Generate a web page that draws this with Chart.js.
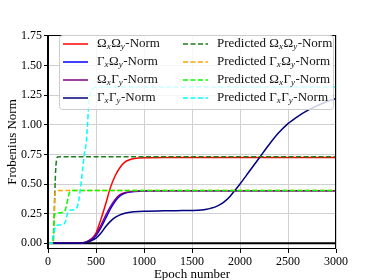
<!DOCTYPE html>
<html><head><meta charset="utf-8">
<script src="https://cdn.jsdelivr.net/npm/chart.js@4.4.1/dist/chart.umd.min.js"></script>
<style>html,body{margin:0;padding:0;background:#fff;}</style>
</head><body>
<canvas id="c" width="374" height="280"></canvas>
<script>
// ---- data ----
const seriesLabels = ['Ω_xΩ_y-Norm','Γ_xΩ_y-Norm','Ω_xΓ_y-Norm','Γ_xΓ_y-Norm',
  'Predicted Ω_xΩ_y-Norm','Predicted Γ_xΩ_y-Norm','Predicted Ω_xΓ_y-Norm','Predicted Γ_xΓ_y-Norm'];
const xTicks = [0,500,1000,1500,2000,2500,3000];
const yTicks = [0,0.25,0.5,0.75,1.0,1.25,1.5,1.75];
const xTitle = 'Epoch number';
const yTitle = 'Frobenius Norm';

const redEpochs   = [0,300,350,400,450,500,550,600,650,700,750,800,850,900,1000,1200,3000];
const redValues   = [0,0.001,0.004,0.012,0.035,0.087,0.2,0.33,0.47,0.57,0.64,0.685,0.705,0.716,0.723,0.725,0.725];
const blueEpochs  = [0,300,350,400,450,500,550,600,650,700,750,800,850,900,1000,1200,3000];
const blueValues  = [0,0.001,0.003,0.01,0.03,0.065,0.13,0.21,0.29,0.355,0.40,0.422,0.433,0.438,0.442,0.443,0.443];
const purpleEpochs= [0,300,350,400,450,500,550,600,650,700,750,800,850,900,1000,1200,3000];
const purpleValues= [0,0.001,0.004,0.012,0.035,0.075,0.15,0.235,0.31,0.37,0.41,0.428,0.436,0.44,0.443,0.444,0.444];
const navyEpochs  = [0,300,400,450,500,550,600,650,700,750,800,900,1000,1200,1400,1500,1600,1650,1700,1750,1800,1850,1900,1950,2000,2100,2200,2300,2400,2500,2600,2700,2800,2900,3000];
const navyValues  = [0,0.001,0.008,0.022,0.044,0.085,0.14,0.185,0.218,0.24,0.254,0.266,0.271,0.274,0.276,0.277,0.281,0.287,0.297,0.31,0.33,0.36,0.4,0.45,0.5,0.61,0.72,0.83,0.93,1.01,1.07,1.12,1.16,1.195,1.222];

const predGreenEpochs = [0,50,60,70,80,90,100,120,3000];
const predGreenValues = [0,0,0.1,0.4,0.62,0.71,0.728,0.73,0.73];
const predOrangeEpochs= [0,55,62,70,78,90,3000];
const predOrangeValues= [0,0,0.15,0.38,0.44,0.445,0.445];
const predLimeEpochs  = [0,50,58,65,75,100,150,175,190,205,220,235,250,3000];
const predLimeValues  = [0,0,0.1,0.22,0.25,0.255,0.26,0.27,0.31,0.37,0.42,0.44,0.445,0.445];
const predCyanEpochs  = [0,40,55,70,85,120,170,185,200,215,240,300,320,340,360,380,400,410,420,430,450,475,500,3000];
const predCyanValues  = [0,0,0.06,0.12,0.15,0.155,0.165,0.19,0.24,0.27,0.28,0.30,0.36,0.47,0.62,0.76,0.86,0.98,1.12,1.21,1.28,1.31,1.32,1.32];

const colors = ['#ff0000','#0000ff','#800080','#000080','#1f7f1f','#ffa500','#00ff00','#00ffff'];
const epochSets = [redEpochs,blueEpochs,purpleEpochs,navyEpochs,predGreenEpochs,predOrangeEpochs,predLimeEpochs,predCyanEpochs];
const valueSets = [redValues,blueValues,purpleValues,navyValues,predGreenValues,predOrangeValues,predLimeValues,predCyanValues];

const FONT = '"Liberation Serif", "DejaVu Serif", serif';
const DASH = [5,2.5];

const datasets = seriesLabels.map((lab,i)=>({
  label: lab,
  data: epochSets[i].map((e,k)=>({x:e, y:valueSets[i][k]})),
  borderColor: colors[i],
  backgroundColor: colors[i],
  borderWidth: 1.5,
  borderDash: i>=4 ? DASH : [],
  pointRadius: 0,
  fill: false,
  cubicInterpolationMode: 'monotone',
  order: 8 - i
}));

function drawLabel(ctx, text, x, y){
  const parts = text.split(/(_[a-z])/);
  for (const p of parts){
    if(!p) continue;
    if(p[0]==='_'){
      ctx.font = 'italic 9px ' + FONT;
      ctx.fillText(p[1], x, y+3);
      x += ctx.measureText(p[1]).width + 0.5;
    } else {
      ctx.font = '13px ' + FONT;
      ctx.fillText(p, x, y);
      x += ctx.measureText(p).width;
    }
  }
}

const overlay = {
  id:'overlay',
  beforeDatasetsDraw(chart){
    const {ctx, chartArea:a, scales:{x,y}} = chart;
    ctx.save();
    ctx.strokeStyle='#000'; ctx.lineWidth=2;
    const y0 = y.getPixelForValue(0);
    ctx.beginPath(); ctx.moveTo(a.left,y0); ctx.lineTo(a.right,y0); ctx.stroke();
    const x0 = x.getPixelForValue(0);
    ctx.beginPath(); ctx.moveTo(x0,a.top); ctx.lineTo(x0,a.bottom); ctx.stroke();
    ctx.restore();
  },
  afterDatasetsDraw(chart){
    const {ctx, chartArea:a} = chart;
    ctx.save();
    // spines
    ctx.strokeStyle='#000'; ctx.lineWidth=1;
    ctx.strokeRect(Math.round(a.left)+0.5, Math.round(a.top)+0.5, Math.round(a.right-a.left)-1, Math.round(a.bottom-a.top)-1);
    // legend
    const lx = a.left+11, ly = a.top+0.5, lw = 274, lh = 74;
    ctx.beginPath();
    ctx.roundRect(lx+0.5, ly, lw, lh, 3);
    ctx.fillStyle='rgba(255,255,255,0.8)';
    ctx.fill();
    ctx.strokeStyle='#cccccc'; ctx.lineWidth=1; ctx.stroke();
    ctx.textBaseline='middle';
    chart.data.datasets.forEach((ds,i)=>{
      const col = i<4?0:1, row = i%4;
      const hx = a.left + (col? 135 : 15);
      const cy = a.top + 9 + row*18;
      ctx.strokeStyle = ds.borderColor; ctx.lineWidth=1.5;
      ctx.setLineDash(ds.borderDash||[]);
      ctx.beginPath(); ctx.moveTo(hx,cy); ctx.lineTo(hx+25,cy); ctx.stroke();
      ctx.setLineDash([]);
      ctx.fillStyle='#111';
      drawLabel(ctx, ds.label, hx+34, cy);
    });
    ctx.restore();
  }
};

new Chart(document.getElementById('c'), {
  type:'line',
  data:{datasets},
  options:{
    responsive:false,
    animation:false,
    devicePixelRatio:1,
    layout:{padding:{left:0,right:38,top:35,bottom:0}},
    plugins:{legend:{display:false}, tooltip:{enabled:false}},
    scales:{
      x:{
        type:'linear', min:0, max:3000,
        afterBuildTicks(s){ s.ticks = xTicks.map(v=>({value:v})); },
        afterFit(s){ s.height = 31; },
        grid:{color:'#d0d0d0', lineWidth:1, tickColor:'#000', tickLength:4},
        border:{display:false},
        ticks:{color:'#000', font:{family:FONT,size:12}, padding:2, maxRotation:0, callback:v=>String(v)},
        title:{display:true, text:xTitle, color:'#000', font:{family:FONT,size:13}, padding:{top:0,bottom:-2}}
      },
      y:{
        type:'linear', min:-0.048, max:1.758,
        afterBuildTicks(s){ s.ticks = yTicks.map(v=>({value:v})); },
        afterFit(s){ s.width = 48; },
        grid:{color:'#d0d0d0', lineWidth:1, tickColor:'#000', tickLength:4},
        border:{display:false},
        ticks:{color:'#000', font:{family:FONT,size:12}, padding:2, callback:v=>Number(v).toFixed(2)},
        title:{display:true, text:yTitle, color:'#000', font:{family:FONT,size:13}, padding:{top:5,bottom:0}}
      }
    }
  },
  plugins:[overlay]
});
</script>
</body></html>
